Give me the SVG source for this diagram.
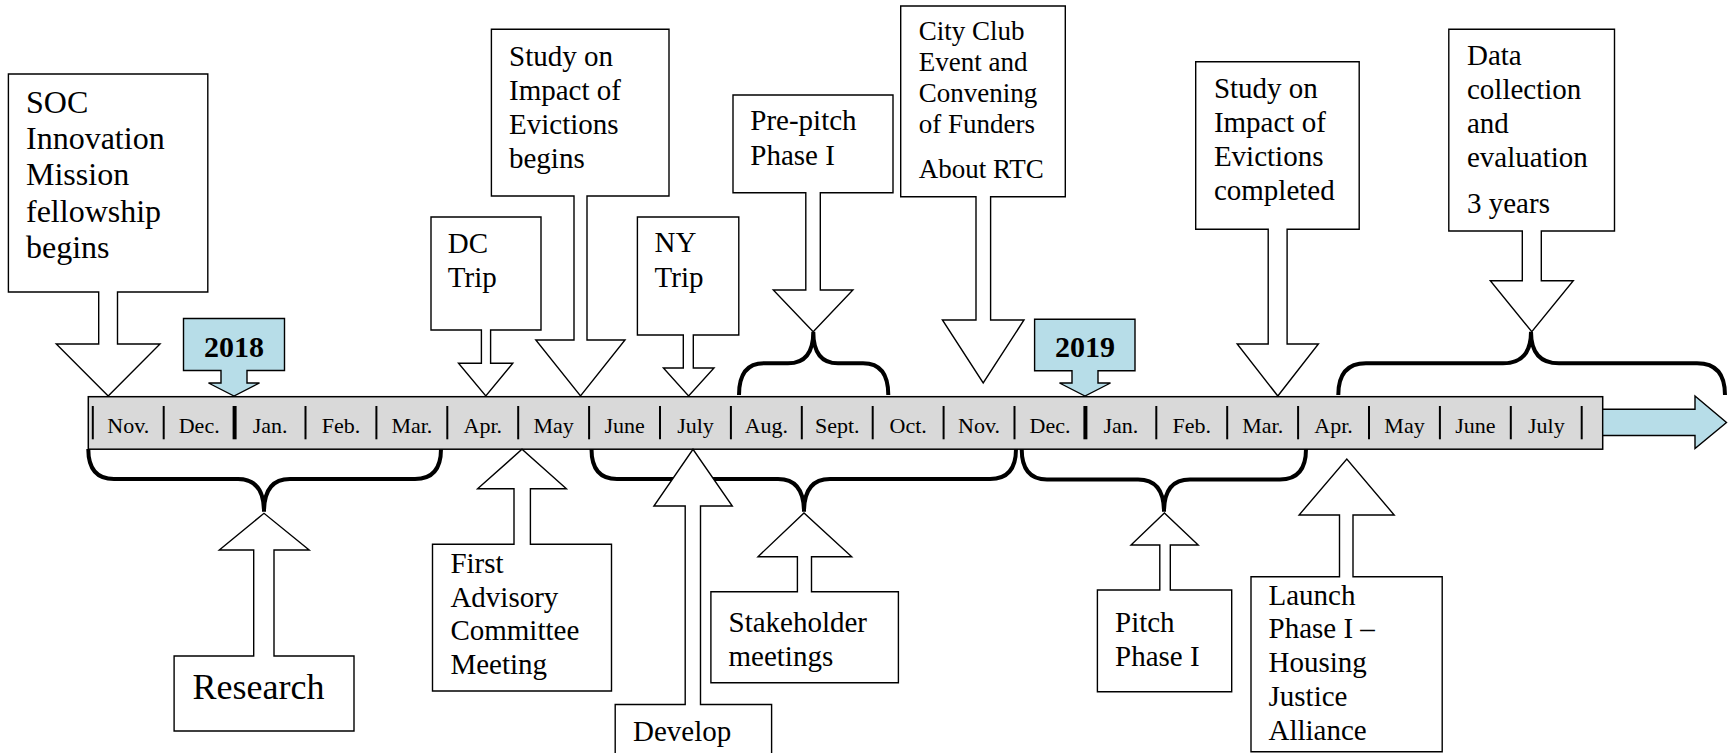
<svg xmlns="http://www.w3.org/2000/svg" width="1731" height="753" viewBox="0 0 1731 753" font-family="'Liberation Serif', 'Times New Roman', 'DejaVu Serif', serif">
<style>
.co{fill:#fff;stroke:#000;stroke-width:1.4;stroke-linejoin:miter}
.bl{fill:#b7dde8;stroke:#000;stroke-width:1.4}
.br{fill:none;stroke:#000;stroke-width:4;stroke-linecap:butt}
.tk{stroke:#000;stroke-width:2}
.tkb{stroke:#000;stroke-width:4}
text{font-family:'Liberation Serif','Times New Roman','DejaVu Serif',serif}
.t{font-size:29px;fill:#000}
.t27{font-size:27px}
.t32{font-size:32px}
.t36{font-size:36px}
.yr{font-size:30px;font-weight:bold;text-anchor:middle}
.m{font-size:22px;text-anchor:middle}
</style>
<rect width="1731" height="753" fill="#fff"/>

<g id="timeline">
<rect x="88.3" y="396.7" width="1514.4" height="52.5" fill="#d9d9d9" stroke="#000" stroke-width="1.5"/>
<g>
<line class="tk" x1="92.8" y1="406" x2="92.8" y2="439.3"/>
<line class="tk" x1="163.7" y1="406" x2="163.7" y2="439.3"/>
<line class="tkb" x1="234.6" y1="406" x2="234.6" y2="439.3"/>
<line class="tk" x1="305.5" y1="406" x2="305.5" y2="439.3"/>
<line class="tk" x1="376.4" y1="406" x2="376.4" y2="439.3"/>
<line class="tk" x1="447.3" y1="406" x2="447.3" y2="439.3"/>
<line class="tk" x1="518.2" y1="406" x2="518.2" y2="439.3"/>
<line class="tk" x1="589.1" y1="406" x2="589.1" y2="439.3"/>
<line class="tk" x1="660" y1="406" x2="660" y2="439.3"/>
<line class="tk" x1="730.9" y1="406" x2="730.9" y2="439.3"/>
<line class="tk" x1="801.8" y1="406" x2="801.8" y2="439.3"/>
<line class="tk" x1="872.7" y1="406" x2="872.7" y2="439.3"/>
<line class="tk" x1="943.6" y1="406" x2="943.6" y2="439.3"/>
<line class="tk" x1="1014.5" y1="406" x2="1014.5" y2="439.3"/>
<line class="tkb" x1="1085.4" y1="406" x2="1085.4" y2="439.3"/>
<line class="tk" x1="1156.3" y1="406" x2="1156.3" y2="439.3"/>
<line class="tk" x1="1227.2" y1="406" x2="1227.2" y2="439.3"/>
<line class="tk" x1="1298.1" y1="406" x2="1298.1" y2="439.3"/>
<line class="tk" x1="1369" y1="406" x2="1369" y2="439.3"/>
<line class="tk" x1="1439.9" y1="406" x2="1439.9" y2="439.3"/>
<line class="tk" x1="1510.8" y1="406" x2="1510.8" y2="439.3"/>
<line class="tk" x1="1581.7" y1="406" x2="1581.7" y2="439.3"/>
</g>
<g class="m">
<text x="128.3" y="433.3">Nov.</text>
<text x="199.2" y="433.3">Dec.</text>
<text x="270.1" y="433.3">Jan.</text>
<text x="341" y="433.3">Feb.</text>
<text x="411.9" y="433.3">Mar.</text>
<text x="482.8" y="433.3">Apr.</text>
<text x="553.7" y="433.3">May</text>
<text x="624.6" y="433.3">June</text>
<text x="695.5" y="433.3">July</text>
<text x="766.4" y="433.3">Aug.</text>
<text x="837.3" y="433.3">Sept.</text>
<text x="908.2" y="433.3">Oct.</text>
<text x="979.1" y="433.3">Nov.</text>
<text x="1050" y="433.3">Dec.</text>
<text x="1120.9" y="433.3">Jan.</text>
<text x="1191.8" y="433.3">Feb.</text>
<text x="1262.7" y="433.3">Mar.</text>
<text x="1333.6" y="433.3">Apr.</text>
<text x="1404.5" y="433.3">May</text>
<text x="1475.4" y="433.3">June</text>
<text x="1546.3" y="433.3">July</text>
</g>
<polygon class="bl" points="1602.7,409.3 1695,409.3 1695,396 1726.5,422.5 1695,448.5 1695,435.5 1602.7,435.5"/>
</g>

<g id="connectors">
<path class="br" d="M88.3,449 Q88.3,479 114,479 L238,479 Q264,479 264,511.7 Q264,479 290,479 L415,479 Q441,479 441,449"/>
<path class="br" d="M591.5,449 Q591.5,479 617,479 L778,479 Q804,479 804,511.7 Q804,479 830,479 L990,479 Q1016,479 1016,449"/>
<path class="br" d="M1021.7,449 Q1021.7,479.5 1047,479.5 L1138,479.5 Q1164,479.5 1164,511.7 Q1164,479.5 1190,479.5 L1280,479.5 Q1306,479.5 1306,449"/>
<path class="br" d="M739,395 Q739,363.3 764,363.3 L788,363.3 Q813.3,363.3 813.3,331.7 Q813.3,363.3 838,363.3 L863,363.3 Q888.3,363.3 888.3,395"/>
<path class="br" d="M1338.3,395 Q1338.3,363.3 1366,363.3 L1503,363.3 Q1531,363.3 1531,331.7 Q1531,363.3 1559,363.3 L1697,363.3 Q1725,363.3 1725,395"/>
</g>

<g id="year2018">
<polygon class="bl" points="183.5,318.5 284.5,318.5 284.5,370.5 247,370.5 247,383 259.5,383 234,396 208.5,383 221,383 221,370.5 183.5,370.5"/>
<text class="yr" x="234" y="357">2018</text>
</g>
<g id="year2019">
<polygon class="bl" points="1034.6,319.3 1135,319.3 1135,370.7 1098,370.7 1098,383 1110.5,383 1085,396 1059.5,383 1072,383 1072,370.7 1034.6,370.7"/>
<text class="yr" x="1085" y="357">2019</text>
</g>

<g id="soc">
<polygon class="co" points="8.4,74 207.8,74 207.8,292 117.5,292 117.5,344 160,344 108.2,396 56.3,344 98.7,344 98.7,292 8.4,292"/>
<text class="t t32" x="26" y="112.5">SOC</text>
<text class="t t32" x="26" y="148.5">Innovation</text>
<text class="t t32" x="26" y="185">Mission</text>
<text class="t t32" x="26" y="221.5">fellowship</text>
<text class="t t32" x="26" y="258">begins</text>
</g>

<g id="dc-trip">
<polygon class="co" points="431,217 541,217 541,330 490.6,330 490.6,363.3 512.8,363.3 485.8,396 458.5,363.3 481.4,363.3 481.4,330 431,330"/>
<text class="t" x="447.8" y="253">DC</text>
<text class="t" x="447.8" y="287">Trip</text>
</g>

<g id="study-begins">
<polygon class="co" points="491.4,29.3 669,29.3 669,196 587,196 587,340 625,340 580.5,396 535.8,340 574,340 574,196 491.4,196"/>
<text class="t" x="509" y="65.5">Study on</text>
<text class="t" x="509" y="99.5">Impact of</text>
<text class="t" x="509" y="133.5">Evictions</text>
<text class="t" x="509" y="167.5">begins</text>
</g>

<g id="ny-trip">
<polygon class="co" points="637.4,217 738.8,217 738.8,335 693.3,335 693.3,368 714,368 688.6,396 663.4,368 683.3,368 683.3,335 637.4,335"/>
<text class="t" x="654.6" y="252">NY</text>
<text class="t" x="654.6" y="287">Trip</text>
</g>

<g id="pre-pitch">
<polygon class="co" points="733,95 893,95 893,192.7 820.3,192.7 820.3,290 852.9,290 813.2,331.7 773.3,290 805.8,290 805.8,192.7 733,192.7"/>
<text class="t" x="750.3" y="130">Pre-pitch</text>
<text class="t" x="750.3" y="165">Phase I</text>
</g>

<g id="city-club">
<polygon class="co" points="900.7,6 1065.3,6 1065.3,196.7 990.6,196.7 990.6,320 1024,320 983.2,383 942.4,320 976,320 976,196.7 900.7,196.7"/>
<text class="t t27" x="918.7" y="40">City Club</text>
<text class="t t27" x="918.7" y="70.7">Event and</text>
<text class="t t27" x="918.7" y="101.7">Convening</text>
<text class="t t27" x="918.7" y="133.3">of Funders</text>
<text class="t t27" x="918.7" y="178.3">About RTC</text>
</g>

<g id="study-completed">
<polygon class="co" points="1195.7,61.7 1359.2,61.7 1359.2,229.3 1287.1,229.3 1287.1,344 1318.4,344 1277.8,396 1237.2,344 1268.2,344 1268.2,229.3 1195.7,229.3"/>
<text class="t" x="1213.9" y="98.3">Study on</text>
<text class="t" x="1213.9" y="131.9">Impact of</text>
<text class="t" x="1213.9" y="165.7">Evictions</text>
<text class="t" x="1213.9" y="200">completed</text>
</g>

<g id="data-collection">
<polygon class="co" points="1448.8,29.3 1614.5,29.3 1614.5,231 1541.3,231 1541.3,280.7 1573.3,280.7 1531.8,331.7 1490.3,280.7 1522.3,280.7 1522.3,231 1448.8,231"/>
<text class="t" x="1467" y="65">Data</text>
<text class="t" x="1467" y="99.3">collection</text>
<text class="t" x="1467" y="132.7">and</text>
<text class="t" x="1467" y="166.7">evaluation</text>
<text class="t" x="1467" y="213.3">3 years</text>
</g>

<g id="research">
<polygon class="co" points="174.1,656 253.7,656 253.7,550 219.3,550 264,513.3 309.2,550 274,550 274,656 354,656 354,731 174.1,731"/>
<text class="t t36" x="192.5" y="699.3">Research</text>
</g>

<g id="first-advisory">
<polygon class="co" points="432.5,544.3 514,544.3 514,488.7 477.6,488.7 522,449.3 566.4,488.7 530.4,488.7 530.4,544.3 611.5,544.3 611.5,691 432.5,691"/>
<text class="t" x="450.4" y="572.7">First</text>
<text class="t" x="450.4" y="606.7">Advisory</text>
<text class="t" x="450.4" y="640.3">Committee</text>
<text class="t" x="450.4" y="674">Meeting</text>
</g>

<g id="develop">
<polygon class="co" points="615.2,704.5 685.2,704.5 685.2,506 653.9,506 693,449.3 732.3,506 700.5,506 700.5,704.5 771.6,704.5 771.6,770 615.2,770"/>
<text class="t" x="633" y="741">Develop</text>
</g>

<g id="stakeholder">
<polygon class="co" points="710.9,591.7 797.4,591.7 797.4,556.7 758,556.7 804,513 851.7,556.7 811.5,556.7 811.5,591.7 898.4,591.7 898.4,682.7 710.9,682.7"/>
<text class="t" x="728.5" y="631.7">Stakeholder</text>
<text class="t" x="728.5" y="666">meetings</text>
</g>

<g id="pitch">
<polygon class="co" points="1097.4,590 1159.8,590 1159.8,545 1131,545 1164.4,513 1198.2,545 1170.3,545 1170.3,590 1231.7,590 1231.7,691.7 1097.4,691.7"/>
<text class="t" x="1115" y="631.7">Pitch</text>
<text class="t" x="1115" y="666">Phase I</text>
</g>

<g id="launch">
<polygon class="co" points="1251,576.7 1339.5,576.7 1339.5,515 1299.1,515 1346.8,459 1394.2,515 1353,515 1353,576.7 1442.2,576.7 1442.2,751.7 1251,751.7"/>
<text class="t" x="1268.5" y="605">Launch</text>
<text class="t" x="1268.5" y="638.3">Phase I –</text>
<text class="t" x="1268.5" y="671.7">Housing</text>
<text class="t" x="1268.5" y="706">Justice</text>
<text class="t" x="1268.5" y="740">Alliance</text>
</g>
</svg>
